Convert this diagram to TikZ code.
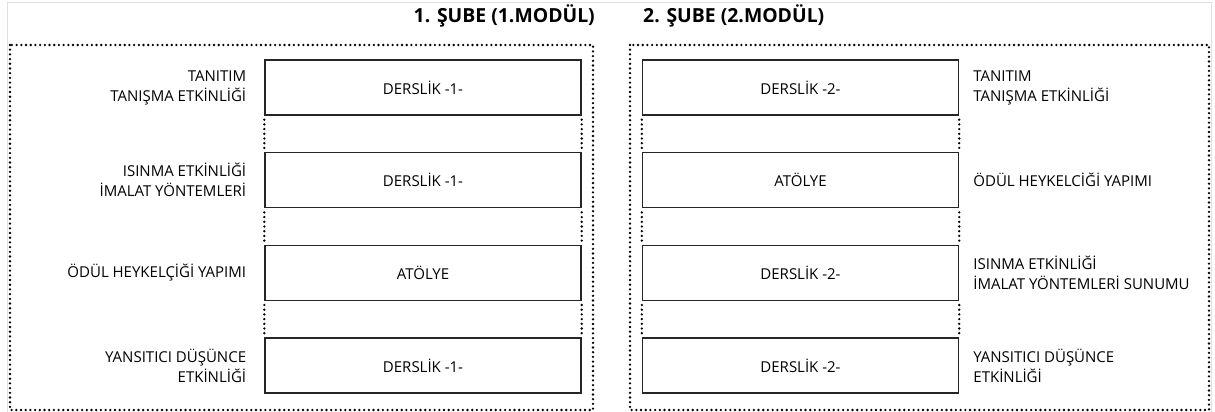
\documentclass[tikz,border=0pt]{standalone}
\usepackage{fontspec}
\setmainfont{Open Sans}
\usetikzlibrary{positioning}

\tikzset{
    roombox/.style={draw=black!85, line width=1.4pt, minimum width=316pt, minimum height=55pt,
        inner sep=0pt, font=\fontsize{15}{20}\selectfont, text=black},
    actlabel/.style={inner sep=0pt, font=\fontsize{15}{20}\selectfont, text=black},
    dotline/.style={black, line width=2.6pt, line cap=round, dash pattern=on 0pt off 4.7pt},
    titletext/.style={inner sep=0pt, font=\fontsize{19.4}{24}\selectfont\bfseries, text=black}
}

\begin{document}
\begin{tikzpicture}[x=1pt, y=-1pt]

    % Page size and the thin outer frame
    \useasboundingbox (0,0) rectangle (1215,412);
    \draw[black!12, line width=1pt] (7,414) -- (7,3) -- (1211,3) -- (1211,414);

    % Titles
    \node[titletext, anchor=base east] (title1) at (595,23) {1. ŞUBE (1.MODÜL)};
    \node[titletext, anchor=base west] (title2) at (643,23) {2. ŞUBE (2.MODÜL)};

    % Dotted frames of the two groups
    \draw[dotline] (10,45) rectangle (593,410);
    \draw[dotline] (630,45) rectangle (1209,410);

    % Rooms of group 1
    \node[roombox] (lbox1) at (423,87.5) {DERSLİK -1-};
    \node[roombox] (lbox2) at (423,180.2) {DERSLİK -1-};
    \node[roombox] (lbox3) at (423,272.8) {ATÖLYE};
    \node[roombox] (lbox4) at (423,365.5) {DERSLİK -1-};

    % Rooms of group 2
    \node[roombox] (rbox1) at (800.5,87.5) {DERSLİK -2-};
    \node[roombox] (rbox2) at (800.5,180.2) {ATÖLYE};
    \node[roombox] (rbox3) at (800.5,272.8) {DERSLİK -2-};
    \node[roombox] (rbox4) at (800.5,365.5) {DERSLİK -2-};

    % Activities of group 1 (left of the rooms)
    \node[actlabel, align=right, left=18pt of lbox1] (llab1) {TANITIM\\TANIŞMA ETKİNLİĞİ};
    \node[actlabel, align=right, left=18pt of lbox2] (llab2) {ISINMA ETKİNLİĞİ\\İMALAT YÖNTEMLERİ};
    \node[actlabel, align=right, left=18pt of lbox3] (llab3) {ÖDÜL HEYKELÇİĞİ YAPIMI};
    \node[actlabel, align=right, left=18pt of lbox4] (llab4) {YANSITICI DÜŞÜNCE\\ETKİNLİĞİ};

    % Activities of group 2 (right of the rooms)
    \node[actlabel, align=left, right=14pt of rbox1] (rlab1) {TANITIM\\TANIŞMA ETKİNLİĞİ};
    \node[actlabel, align=left, right=14pt of rbox2] (rlab2) {ÖDÜL HEYKELCİĞİ YAPIMI};
    \node[actlabel, align=left, right=14pt of rbox3] (rlab3) {ISINMA ETKİNLİĞİ\\İMALAT YÖNTEMLERİ SUNUMU};
    \node[actlabel, align=left, right=14pt of rbox4] (rlab4) {YANSITICI DÜŞÜNCE\\ETKİNLİĞİ};

    % Dotted links between the rooms
    \foreach \s/\t in {1/2, 2/3, 3/4} {
        \draw[dotline] ([yshift=-4pt]lbox\s.south west) -- ([yshift=4pt]lbox\t.north west);
        \draw[dotline] ([yshift=-4pt]lbox\s.south east) -- ([yshift=4pt]lbox\t.north east);
        \draw[dotline] ([yshift=-4pt]rbox\s.south west) -- ([yshift=4pt]rbox\t.north west);
        \draw[dotline] ([yshift=-4pt]rbox\s.south east) -- ([yshift=4pt]rbox\t.north east);
    }

\end{tikzpicture}
\end{document}
